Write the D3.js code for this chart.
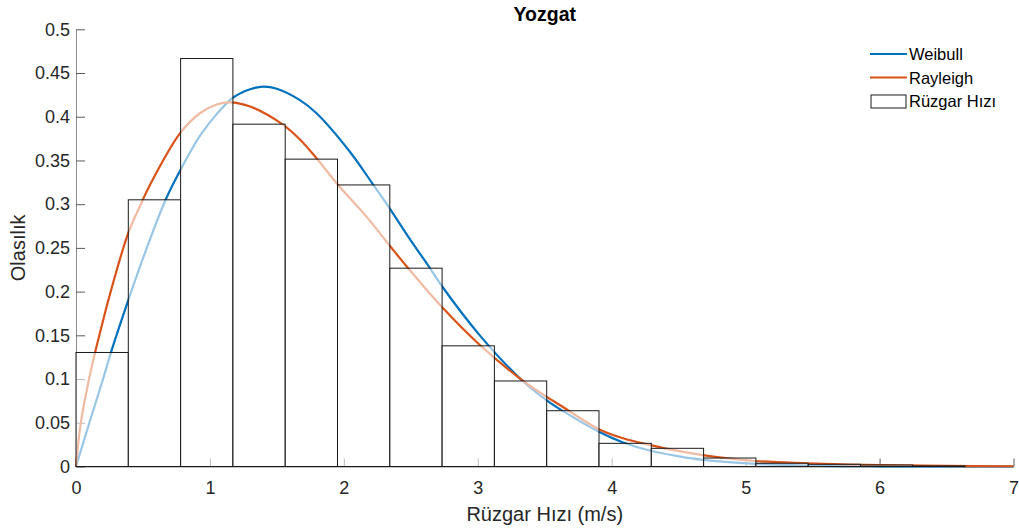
<!DOCTYPE html>
<html>
  <head>
    <meta charset="utf-8">
    <title>Yozgat</title>
    <style>
      body { margin: 0; background: #fff; }
      text { font-family: "Liberation Sans", Arial, sans-serif; fill: #262626; }
      .title { font-size: 19.5px; font-weight: bold; fill: #000; }
      .tick text { font-size: 18px; }
      .label { font-size: 20px; }
      .legend text { font-size: 16.5px; fill: #000; }
      .curve { fill: none; stroke-width: 2.2px; }
      .bar { fill: #fff; fill-opacity: 0.6; stroke: #1a1a1a; stroke-width: 1px; }
    </style>
  </head>
  <body>
    <div id="chart"></div>
    <script src="https://d3js.org/d3.v7.min.js"></script>
    <script>
      // histogram: bin width and bar heights (probability)
      const binWidth = 0.3905;
      const barHeights = [0.1304, 0.305, 0.4666, 0.3915, 0.3515, 0.322, 0.2268, 0.138,
                          0.0978, 0.0638, 0.0265, 0.0208, 0.0097, 0.0037, 0.0025, 0.0017, 0.0006];

      // fitted curves
      const weibullX = [0, 0.1, 0.2, 0.26, 0.39, 0.5, 0.669, 0.776, 0.925, 1.05, 1.174, 1.3, 1.398, 1.5,
                        1.672, 1.796, 2.045, 2.207, 2.343, 2.493, 2.642, 2.729, 3.015, 3.313, 3.512,
                        3.662, 3.9, 4.085, 4.29, 4.504, 4.68, 5.07, 5.46, 6.0, 7.0];
      const weibullY = [0, 0.05, 0.099, 0.13, 0.19, 0.238, 0.305, 0.338, 0.378, 0.403, 0.422, 0.4315, 0.4345, 0.432,
                        0.419, 0.404, 0.360, 0.325, 0.295, 0.26, 0.227, 0.207, 0.150, 0.101, 0.076,
                        0.061, 0.040, 0.0275, 0.018, 0.0115, 0.0075, 0.003, 0.001, 0.0002, 0];

      const rayleighX = [0, 0.035, 0.092, 0.142, 0.204, 0.241, 0.39, 0.49, 0.552, 0.776, 0.925, 1.05, 1.15,
                         1.3, 1.547, 1.672, 1.796, 1.957, 2.169, 2.343, 2.48, 2.729, 3.015, 3.313, 3.512,
                         3.612, 3.9, 4.085, 4.29, 4.504, 4.68, 5.07, 5.46, 6.0, 6.5, 7.0];
      const rayleighY = [0, 0.049, 0.096, 0.13, 0.168, 0.19, 0.267, 0.302, 0.322, 0.381, 0.404, 0.414, 0.4165,
                         0.4117, 0.3907, 0.374, 0.3526, 0.322, 0.2858, 0.2525, 0.2268, 0.1829, 0.139, 0.1009, 0.080,
                         0.0704, 0.043, 0.0323, 0.0245, 0.0175, 0.013, 0.0063, 0.0037, 0.0015, 0.0007, 0.0003];

      const xTicks = [0, 1, 2, 3, 4, 5, 6, 7];
      const yTicks = [0, 0.05, 0.1, 0.15, 0.2, 0.25, 0.3, 0.35, 0.4, 0.45, 0.5];

      const width = 1019, height = 531;
      const margin = { top: 29.3, right: 5.5, bottom: 64.5, left: 76 };
      const w = width - margin.left - margin.right;
      const h = height - margin.top - margin.bottom;

      const svg = d3.select("#chart").append("svg")
          .attr("width", width)
          .attr("height", height);

      const g = svg.append("g")
          .attr("transform", `translate(${margin.left},${margin.top})`);

      const x = d3.scaleLinear().domain([0, 7]).range([0, w]);
      const y = d3.scaleLinear().domain([0, 0.5]).range([h, 0]);

      // axes (inward ticks, no box)
      g.append("g")
          .attr("class", "axis")
          .attr("transform", `translate(0,${h})`)
          .call(d3.axisBottom(x).tickValues(xTicks).tickSizeInner(-8).tickSizeOuter(0).tickPadding(15)
            .tickFormat(d3.format("d")));
      g.append("g")
          .attr("class", "axis")
          .call(d3.axisLeft(y).tickValues(yTicks).tickSizeInner(-9).tickSizeOuter(0).tickPadding(6)
            .tickFormat(d => String(+d.toFixed(2))));
      g.selectAll(".axis .domain").attr("stroke", "#8c8c8c");
      g.selectAll(".axis .tick line").attr("stroke", "#5a5a5a");

      // curves
      const line = d3.line()
          .x(d => x(d[0]))
          .y(d => y(d[1]))
          .curve(d3.curveCatmullRom.alpha(0.5));

      g.append("path")
          .attr("class", "curve")
          .attr("stroke", "#0072BD")
          .attr("d", line(d3.zip(weibullX, weibullY)));

      g.append("path")
          .attr("class", "curve")
          .attr("stroke", "#D95319")
          .attr("d", line(d3.zip(rayleighX, rayleighY)));

      // histogram bars, translucent white over the curves
      g.selectAll(".bar")
        .data(barHeights)
        .enter().append("rect")
          .attr("class", "bar")
          .attr("x", (d, i) => x(i * binWidth))
          .attr("width", x(binWidth) - x(0))
          .attr("y", d => y(d))
          .attr("height", d => y(0) - y(d));

      // title and labels
      svg.append("text")
          .attr("class", "title")
          .attr("x", margin.left + w / 2)
          .attr("y", 21)
          .attr("text-anchor", "middle")
          .text("Yozgat");

      svg.append("text")
          .attr("class", "label")
          .attr("x", margin.left + w / 2)
          .attr("y", 521)
          .attr("text-anchor", "middle")
          .text("Rüzgar Hızı (m/s)");

      svg.append("text")
          .attr("class", "label")
          .attr("transform", `translate(25,${margin.top + h / 2}) rotate(-90)`)
          .attr("text-anchor", "middle")
          .text("Olasılık");

      // legend
      const legend = svg.append("g").attr("class", "legend");
      const items = [
        { name: "Weibull", color: "#0072BD", yy: 54 },
        { name: "Rayleigh", color: "#D95319", yy: 77.5 }
      ];
      items.forEach(it => {
        legend.append("line")
            .attr("x1", 870).attr("x2", 907)
            .attr("y1", it.yy).attr("y2", it.yy)
            .attr("stroke", it.color)
            .attr("stroke-width", 2.2);
        legend.append("text")
            .attr("x", 909).attr("y", it.yy + 6)
            .text(it.name);
      });
      legend.append("rect")
          .attr("x", 871).attr("y", 95)
          .attr("width", 35).attr("height", 13)
          .attr("fill", "#fff")
          .attr("stroke", "#1a1a1a");
      legend.append("text")
          .attr("x", 909).attr("y", 107)
          .text("Rüzgar Hızı");
    </script>
  </body>
</html>
